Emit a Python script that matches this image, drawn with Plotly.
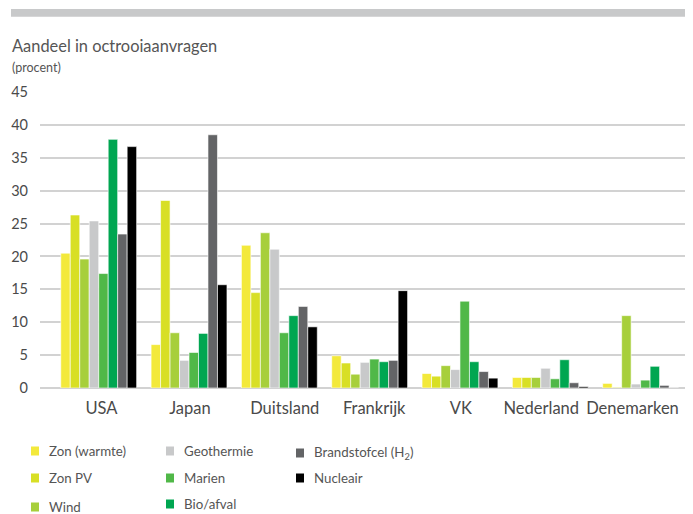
import plotly.graph_objects as go

countries = ["USA", "Japan", "Duitsland", "Frankrijk", "VK", "Nederland", "Denemarken"]

zon_warmte = [20.5, 6.6, 21.7, 4.9, 2.2, 1.6, 0.7]
zon_pv = [26.3, 28.5, 14.5, 3.8, 1.8, 1.6, 0.1]
wind = [19.6, 8.4, 23.6, 2.1, 3.4, 1.6, 11.0]
geothermie = [25.4, 4.2, 21.1, 3.9, 2.8, 3.0, 0.6]
marien = [17.4, 5.4, 8.4, 4.4, 13.2, 1.4, 1.2]
bio_afval = [37.8, 8.3, 11.0, 4.0, 4.0, 4.3, 3.3]
brandstofcel = [23.4, 38.5, 12.4, 4.2, 2.5, 0.8, 0.4]
nucleair = [36.7, 15.7, 9.3, 14.8, 1.5, 0.2, 0.0]

names = ["Zon (warmte)", "Zon PV", "Wind", "Geothermie", "Marien", "Bio/afval",
         "Brandstofcel (H<sub>2</sub>)", "Nucleair"]
values = [zon_warmte, zon_pv, wind, geothermie, marien, bio_afval, brandstofcel, nucleair]
colors = ["#f3e93b", "#d8df25", "#a7cf3b", "#c8c9ca", "#50b848", "#00a651", "#636466", "#000000"]

FONT = "Lato"
OFF = 8  # page body margin, figure sits at (8, 8)
W, H = 693 - OFF, 514 - OFF
# plot area in page pixels: x 40..693, y 92..388
L, R, T, B = 40 - OFF, 0, 92 - OFF, 514 - 388
pw, ph = W - L - R, H - T - B


def px(x):
    # page pixel -> paper x
    return (x - 40) / pw


def py(y):
    # page pixel -> paper y
    return (388 - y) / ph


pos = list(range(len(countries)))
# labels in the original sit slightly off the group centres (last one pulled in)
label_shift = [0.03, 0.01, 0.06, 0.05, 0.01, -0.10, -0.09]
tick_pos = [p + s for p, s in zip(pos, label_shift)]

fig = go.Figure()
for name, vals, col in zip(names, values, colors):
    fig.add_trace(go.Bar(
        x=pos, y=vals, name=name,
        marker=dict(color=col, line=dict(color="white", width=0.6)),
    ))

fig.update_layout(
    width=W, height=H,
    margin=dict(l=L, r=R, t=T, b=B, autoexpand=False),
    plot_bgcolor="white", paper_bgcolor="white",
    barmode="group", bargap=0.16, bargroupgap=0,
    showlegend=False,
    font=dict(family=FONT, color="#444444"),
    xaxis=dict(
        range=[-0.65, 6.58], showgrid=False, showline=False, zeroline=False, ticks="",
        tickmode="array", tickvals=tick_pos, ticktext=countries,
        automargin=False, ticklabelstandoff=8,
        tickfont=dict(family=FONT, size=16.5, color="#4a4a4a"),
    ),
    yaxis=dict(
        range=[0, 45], dtick=5, showgrid=True, gridcolor="#d2d2d2", gridwidth=1.5,
        zeroline=True, zerolinecolor="#d2d2d2", zerolinewidth=1.5,
        showline=False, ticks="", ticklabelstandoff=11, automargin=False,
        tickfont=dict(family=FONT, size=14.5, color="#4a4a4a"),
    ),
)

# top grey band
fig.add_shape(type="rect", xref="paper", yref="paper",
              x0=px(11), x1=1.0, y0=py(16.7), y1=py(9),
              fillcolor="#c8c9ca", line=dict(width=0), layer="above")

fig.add_annotation(text="Aandeel in octrooiaanvragen", xref="paper", yref="paper",
                   x=px(10), y=py(45), xanchor="left", yanchor="middle", showarrow=False,
                   font=dict(family=FONT, size=16.4, color="#555555"))
fig.add_annotation(text="(procent)", xref="paper", yref="paper",
                   x=px(10), y=py(67), xanchor="left", yanchor="middle", showarrow=False,
                   font=dict(family=FONT, size=12.5, color="#555555"))

# legend, three columns
leg_x = [31, 31, 31, 166, 166, 166, 296, 296]
leg_y = [451, 478, 507, 451, 478, 504, 453, 478]
text_dx = 16
for name, col, lx, ly in zip(names, colors, leg_x, leg_y):
    fig.add_shape(type="rect", xref="paper", yref="paper",
                  x0=px(lx), x1=px(lx + 8), y0=py(ly + 4.5), y1=py(ly - 4.5),
                  fillcolor=col, line=dict(width=0))
    fig.add_annotation(text=name, xref="paper", yref="paper",
                       x=px(lx + text_dx), y=py(ly), xanchor="left", yanchor="middle",
                       showarrow=False,
                       font=dict(family=FONT, size=13.3, color="#555555"))

fig.write_html("out.html")
